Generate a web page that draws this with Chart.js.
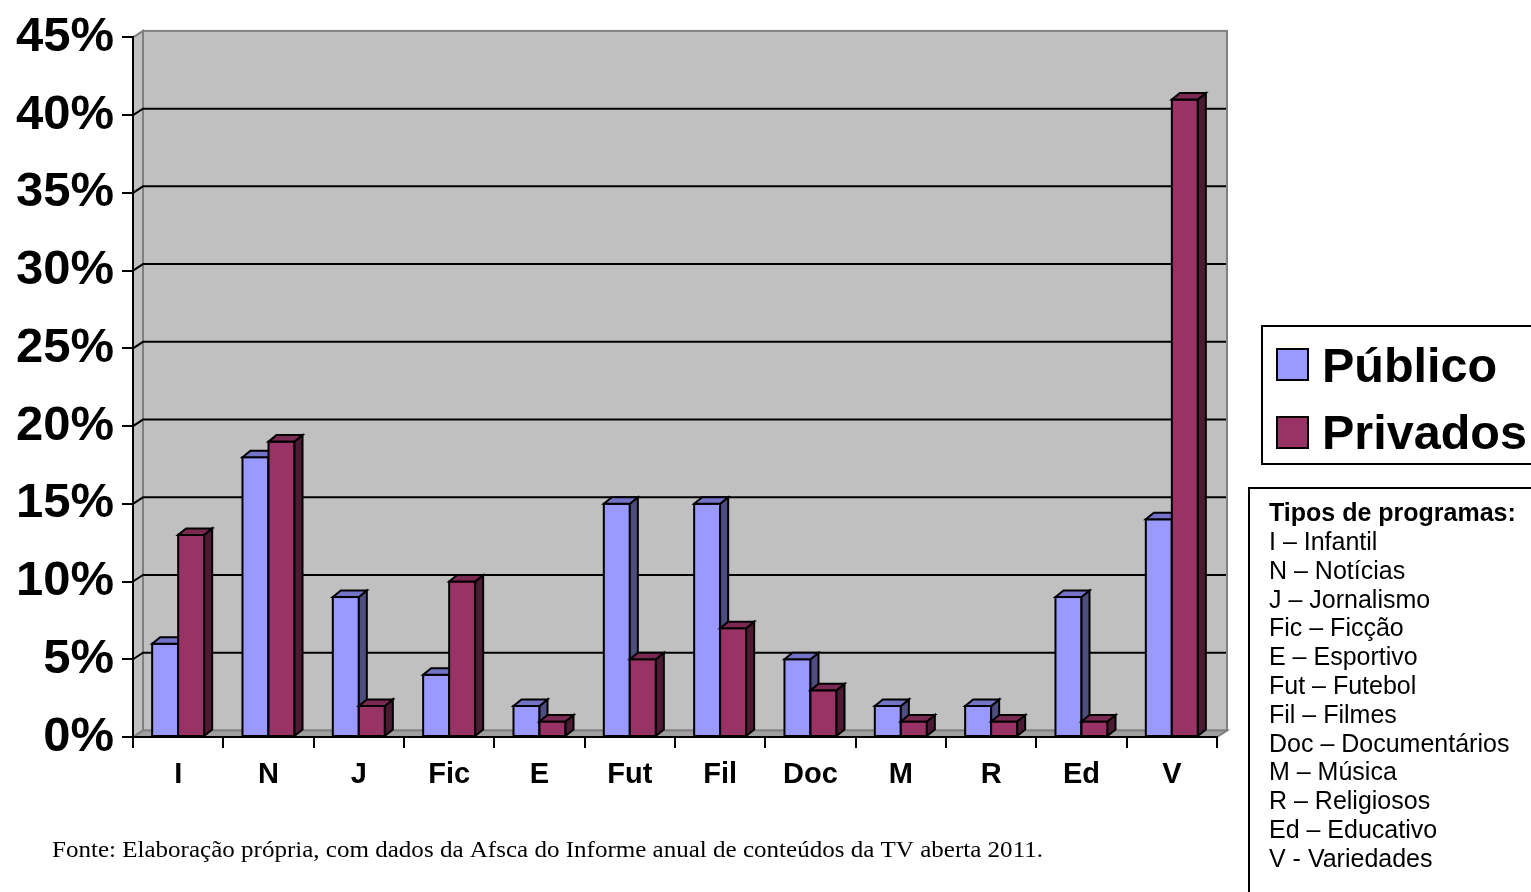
<!DOCTYPE html>
<html>
<head>
<meta charset="utf-8">
<script src="https://cdn.jsdelivr.net/npm/chart.js@4"></script>
<style>
  html, body { margin: 0; padding: 0; background: #ffffff; }
  canvas { display: block; }
</style>
</head>
<body>
<canvas id="chart" width="1531" height="892"></canvas>
<script>
// Program types (short codes on the x axis)
const categories = ['I', 'N', 'J', 'Fic', 'E', 'Fut', 'Fil', 'Doc', 'M', 'R', 'Ed', 'V'];
// Share of airtime per type, in percent
const publico  = [6, 18, 9, 4, 2, 15, 15, 5, 2, 2, 9, 14];
const privados = [13, 19, 2, 10, 1, 5, 7, 3, 1, 1, 1, 41];
const seriesNames = ['Público', 'Privados'];
// Glossary of the codes
const glossaryTitle = 'Tipos de programas:';
const glossary = [
  'I – Infantil', 'N – Notícias', 'J – Jornalismo', 'Fic – Ficção', 'E – Esportivo',
  'Fut – Futebol', 'Fil – Filmes', 'Doc – Documentários', 'M – Música', 'R – Religiosos',
  'Ed – Educativo', 'V - Variedades'
];
const sourceNote = 'Fonte: Elaboração própria, com dados da Afsca do Informe anual de conteúdos da TV aberta 2011.';

const SANS = '"Liberation Sans", Arial, sans-serif';
const SERIF = '"Liberation Serif", "Times New Roman", serif';

const colors = {
  front: ['#9999FF', '#993366'],
  side:  ['#4D4D80', '#4D1A33'],
  top:   ['#7373C8', '#7A2952']
};

// depth of the walls and of the columns
const WALL_DX = 10, WALL_DY = -6.5;
const BAR_DX = 8, BAR_DY = -6.5;

// Grey back wall, side wall, floor and gridlines behind the columns
const wallsPlugin = {
  id: 'walls',
  beforeDraw(chart) {
    const ctx = chart.ctx;
    const a = chart.chartArea;
    const ys = chart.scales.y;
    ctx.save();
    ctx.fillStyle = '#ffffff';
    ctx.fillRect(0, 0, chart.width, chart.height);

    const L = a.left, R = a.right, T = a.top, B = a.bottom;
    // back wall
    ctx.fillStyle = '#C0C0C0';
    ctx.strokeStyle = '#808080';
    ctx.lineWidth = 2;
    ctx.fillRect(L + WALL_DX, T + WALL_DY, R - L, B - T);
    ctx.strokeRect(L + WALL_DX, T + WALL_DY, R - L, B - T);
    // left side wall
    ctx.beginPath();
    ctx.moveTo(L, T);
    ctx.lineTo(L + WALL_DX, T + WALL_DY);
    ctx.lineTo(L + WALL_DX, B + WALL_DY);
    ctx.lineTo(L, B);
    ctx.closePath();
    ctx.fillStyle = '#C0C0C0';
    ctx.fill();
    ctx.stroke();
    // floor
    ctx.beginPath();
    ctx.moveTo(L, B);
    ctx.lineTo(L + WALL_DX, B + WALL_DY);
    ctx.lineTo(R + WALL_DX, B + WALL_DY);
    ctx.lineTo(R, B);
    ctx.closePath();
    ctx.fillStyle = '#A0A0A0';
    ctx.fill();
    ctx.stroke();

    // gridlines
    ctx.strokeStyle = '#000000';
    ctx.lineWidth = 2;
    ys.ticks.forEach(t => {
      if (t.value <= ys.min || t.value >= ys.max) return;
      const y = ys.getPixelForValue(t.value);
      ctx.beginPath();
      ctx.moveTo(L, y);
      ctx.lineTo(L + WALL_DX, y + WALL_DY);
      ctx.lineTo(R + WALL_DX - 1, y + WALL_DY);
      ctx.stroke();
    });
    ctx.restore();
  }
};

// Columns with front, side and top faces, drawn series by series
// so that each column's depth sits behind the next one's front
const depthPlugin = {
  id: 'depth',
  afterDatasetsDraw(chart) {
    const ctx = chart.ctx;
    ctx.save();
    ctx.lineWidth = 2;
    ctx.strokeStyle = '#000000';
    ctx.lineJoin = 'miter';
    const n = chart.data.labels.length;
    for (let c = 0; c < n; c++) {
      chart.data.datasets.forEach((ds, i) => {
        const bar = chart.getDatasetMeta(i).data[c];
        const p = bar.getProps(['x', 'y', 'base', 'width'], true);
        const l = p.x - p.width / 2, r = p.x + p.width / 2;
        const t = Math.min(p.y, p.base), b = Math.max(p.y, p.base);
        // front
        ctx.fillStyle = colors.front[i];
        ctx.fillRect(l, t, r - l, b - t);
        ctx.strokeRect(l, t, r - l, b - t);
        // side
        ctx.beginPath();
        ctx.moveTo(r, t);
        ctx.lineTo(r + BAR_DX, t + BAR_DY);
        ctx.lineTo(r + BAR_DX, b + BAR_DY);
        ctx.lineTo(r, b);
        ctx.closePath();
        ctx.fillStyle = colors.side[i];
        ctx.fill();
        ctx.stroke();
        // top
        ctx.beginPath();
        ctx.moveTo(l, t);
        ctx.lineTo(l + BAR_DX, t + BAR_DY);
        ctx.lineTo(r + BAR_DX, t + BAR_DY);
        ctx.lineTo(r, t);
        ctx.closePath();
        ctx.fillStyle = colors.top[i];
        ctx.fill();
        ctx.stroke();
      });
    }
    ctx.restore();
  }
};

// Legend box, glossary box and source line
const annotationsPlugin = {
  id: 'annotations',
  afterDraw(chart) {
    const ctx = chart.ctx;
    ctx.save();
    ctx.lineWidth = 2;
    ctx.strokeStyle = '#000000';

    // legend
    ctx.strokeRect(1262, 326, 300, 138);
    ctx.font = 'bold 48.5px ' + SANS;
    ctx.textBaseline = 'alphabetic';
    ctx.textAlign = 'left';
    const legY = [349, 417];
    const legBase = [382, 449];
    seriesNames.forEach((name, i) => {
      ctx.fillStyle = colors.front[i];
      ctx.fillRect(1277, legY[i], 31, 31);
      ctx.strokeRect(1277, legY[i], 31, 31);
      ctx.fillStyle = '#000000';
      ctx.fillText(name, 1322, legBase[i]);
    });

    // glossary
    ctx.strokeRect(1249, 488, 320, 420);
    ctx.fillStyle = '#000000';
    ctx.font = 'bold 25px ' + SANS;
    ctx.fillText(glossaryTitle, 1269, 521);
    ctx.font = '25px ' + SANS;
    glossary.forEach((line, k) => {
      ctx.fillText(line, 1269, 550 + k * 28.8);
    });

    // source
    ctx.font = '23px ' + SERIF;
    const w = ctx.measureText(sourceNote).width;
    const target = 991;
    ctx.translate(52, 857);
    ctx.scale(target / w, 1);
    ctx.fillText(sourceNote, 0, 0);
    ctx.restore();
  }
};

new Chart(document.getElementById('chart'), {
  type: 'bar',
  data: {
    labels: categories,
    datasets: [
      { label: seriesNames[0], data: publico, backgroundColor: colors.front[0] },
      { label: seriesNames[1], data: privados, backgroundColor: colors.front[1] }
    ]
  },
  options: {
    responsive: false,
    animation: false,
    events: [],
    layout: { padding: { left: 0, top: 32, right: 314, bottom: 0 } },
    datasets: {
      bar: {
        categoryPercentage: 0.576,
        barPercentage: 1.0,
        borderColor: '#000000',
        borderWidth: 2,
        borderSkipped: false
      }
    },
    plugins: {
      legend: { display: false },
      tooltip: { enabled: false },
      title: { display: false }
    },
    scales: {
      x: {
        offset: true,
        grid: {
          offset: true,
          drawOnChartArea: false,
          drawTicks: true,
          tickLength: 11,
          color: '#000000',
          lineWidth: 2
        },
        border: { display: true, color: '#000000', width: 2 },
        ticks: {
          color: '#000000',
          font: { family: SANS, size: 29, weight: 'bold' },
          padding: 10,
          maxRotation: 0,
          autoSkip: false
        },
        afterFit(scale) { scale.height = 155; }
      },
      y: {
        min: 0,
        max: 45,
        grid: {
          drawOnChartArea: false,
          drawTicks: true,
          tickLength: 11,
          color: '#000000',
          lineWidth: 2
        },
        border: { display: true, color: '#000000', width: 2 },
        ticks: {
          stepSize: 5,
          color: '#000000',
          font: { family: SANS, size: 49, weight: 'bold' },
          padding: 8,
          callback: v => v + '%'
        },
        afterFit(scale) { scale.width = 133; }
      }
    }
  },
  plugins: [wallsPlugin, depthPlugin, annotationsPlugin]
});
</script>
</body>
</html>
